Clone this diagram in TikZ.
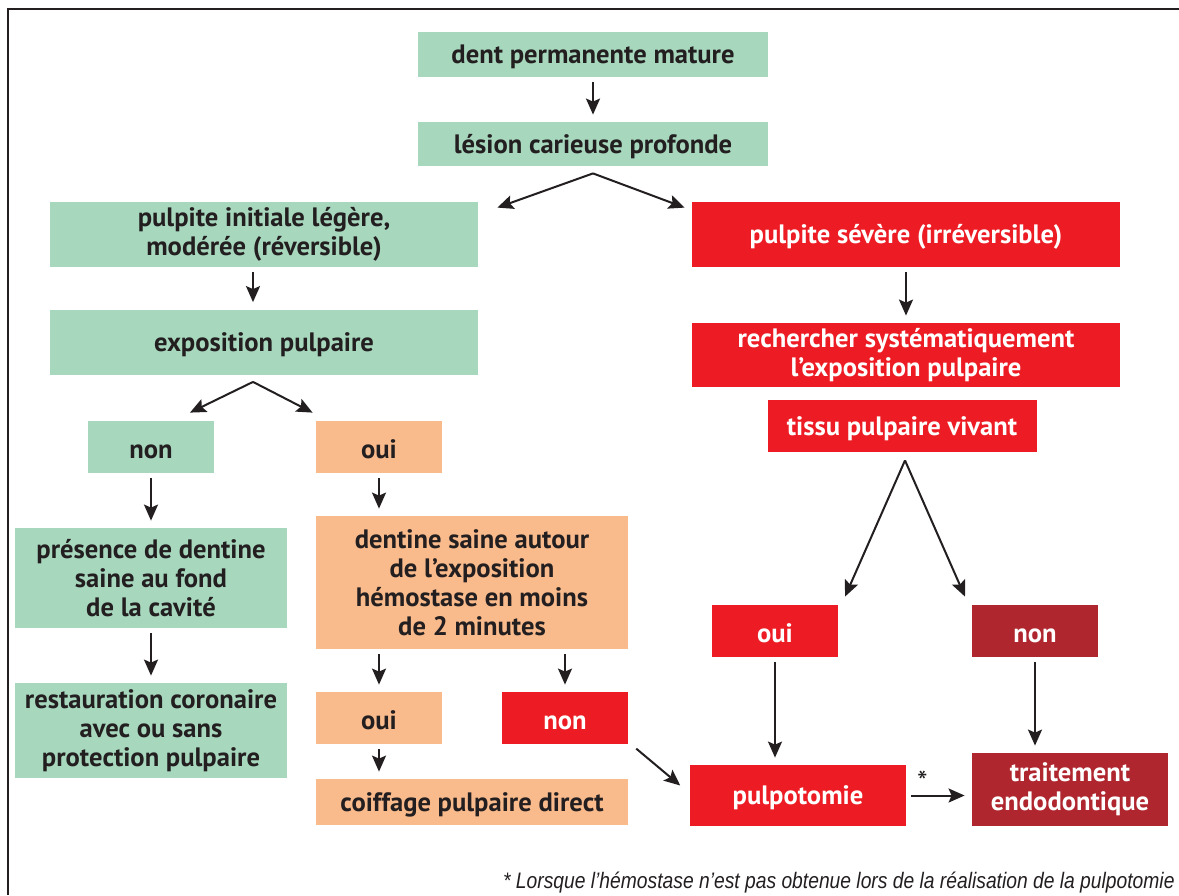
\documentclass[tikz,border=0pt]{standalone}
\usepackage{fontspec}
\setmainfont{PT Sans}
\newfontfamily\notefont[FakeStretch=0.86]{Liberation Sans}
\usetikzlibrary{arrows.meta,calc,positioning}
\definecolor{vert}{RGB}{167,215,189}
\definecolor{peche}{RGB}{249,186,140}
\definecolor{rouge}{RGB}{237,28,36}
\definecolor{bordeaux}{RGB}{175,38,46}
\definecolor{encre}{RGB}{35,31,32}
\tikzset{box/.style={
        inner sep=0pt,
        align=center,
        font=\bfseries\fontsize{13.3}{14.5}\selectfont,
        execute at begin node={\rule{0pt}{12pt}},
    },
    greenbox/.style={box, fill=vert, text=encre},
    peachbox/.style={box, fill=peche, text=encre},
    redbox/.style={box, fill=rouge, text=white},
    darkbox/.style={box, fill=bordeaux, text=white},
    wide/.style={minimum width=214pt, minimum height=32.5pt},
    small/.style={minimum width=63pt, minimum height=26pt},
    fleche/.style={-{Stealth[length=8pt,width=7pt,inset=1.5pt]}, line width=1pt, color=encre,
        shorten >=3.5pt, shorten <=2.5pt}
}

\begin{document}
\begin{tikzpicture}[x=1pt,y=1pt,on grid]
  \useasboundingbox (0,0) rectangle (589.5,-447.5);
  \draw[line width=1pt,encre] (4,-447.5) -- (4,-4.5) -- (589.5,-4.5);

  \node[greenbox, minimum width=175pt, minimum height=22.5pt] (dent) at (296.5,-27) {dent permanente mature};
  \node[greenbox, minimum width=175pt, minimum height=22pt] (lesion) [below=45pt of dent] {lésion carieuse profonde};
  \node[greenbox, wide] (pulpi) [below left=45.25pt and 164.5pt of lesion] {pulpite initiale légère,\\ modérée (réversible)};
  \node[redbox, wide] (severe) [right=321pt of pulpi] {pulpite sévère (irréversible)};
  \node[greenbox, wide] (expo) [below=53.75pt of pulpi] {exposition pulpaire};
  \node[greenbox, small] (non1) [below left=52.5pt and 56.5pt of expo] {non};
  \node[peachbox, small] (oui1) [right=114pt of non1] {oui};
  \node[greenbox, minimum width=136pt, minimum height=50pt] (presence) [below=65.5pt of non1] {présence de dentine\\ saine au fond\\ de la cavité};
  \node[greenbox, minimum width=136pt, minimum height=47.5pt] (restau) [below=76.25pt of presence] {restauration coronaire\\ avec ou sans\\ protection pulpaire};
  \node[peachbox, minimum width=156pt, minimum height=66.5pt] (dentine) [below right=67.75pt and 46.5pt of oui1] {dentine saine autour\\ de l’exposition\\ hémostase en moins\\ de 2 minutes};
  \node[peachbox, small] (oui2) [below=135.5pt of oui1] {oui};
  \node[redbox, small] (non2) [right=93pt of oui2] {non};
  \node[peachbox, minimum width=156pt, minimum height=23pt] (coiffage) [below right=42pt and 46.5pt of oui2] {coiffage pulpaire direct};
  \node[redbox, minimum width=214pt, minimum height=32pt] (recherche) [below=60.25pt of severe] {rechercher systématiquement\\ l’exposition pulpaire};
  \node[redbox, minimum width=134.5pt, minimum height=26pt] (tissu) [below left=35.5pt and 2pt of recherche] {tissu pulpaire vivant};
  \node[redbox, small] (oui3) [below left=102.5pt and 63.5pt of tissu] {oui};
  \node[darkbox, small] (non3) [right=130pt of oui3] {non};
  \node[redbox, minimum width=108pt, minimum height=30.5pt] (pulpo) [below right=82.25pt and 11.5pt of oui3] {pulpotomie};
  \node[darkbox, minimum width=98pt, minimum height=36.5pt] (traitement) [below right=79.25pt and 17.5pt of non3] {traitement\\ endodontique};
  \node[anchor=center, inner sep=0pt, text=encre, font=\fontsize{15}{15}\selectfont] (etoile) at ([shift={(8pt,7pt)}]pulpo.east) {*};
  \node[anchor=base east, inner sep=0pt, text=encre, font=\notefont\itshape\fontsize{11.2}{13}\selectfont] (note) at (587.5,-444)
    {* Lorsque l’hémostase n’est pas obtenue lors de la réalisation de la pulpotomie};

  % fourches
  \coordinate (fourche1) at ([yshift=-3.5pt]lesion.south);
  \coordinate (fourche2) at ([shift={(-5.5pt,-3.5pt)}]expo.south);
  \coordinate (fourche3) at ([shift={(1.5pt,-4pt)}]tissu.south);
  \path[fleche, shorten <=0pt, shorten >=0pt]
  (fourche1)
  edge ([shift={(9.5pt,-3pt)}]pulpi.north east)
  edge ([shift={(-3.5pt,-3pt)}]severe.north west)
  (fourche2)
  edge ([shift={(19.5pt,4pt)}]non1.north)
  edge ([shift={(-1.5pt,4pt)}]oui1.north west)
  (fourche3)
  edge ([shift={(35pt,4pt)}]oui3.north)
  edge ([shift={(-35pt,4pt)}]non3.north)
  ;

  \path[fleche]
  (dent) edge (lesion)
  ([xshift=-5.5pt]pulpi.south) edge ([xshift=-5.5pt]expo.north)
  (non1) edge (presence)
  (presence) edge (restau)
  (oui1) edge (dentine.north -| oui1)
  (dentine.south -| oui2) edge (oui2)
  (dentine.south -| non2) edge (non2)
  (oui2) edge (coiffage.north -| oui2)
  (severe) edge (recherche)
  (oui3) edge (pulpo.north -| oui3)
  (non3) edge (traitement.north -| non3)
  ([shift={(2pt,-0.5pt)}]non2.south east) edge ([shift={(-2pt,2.75pt)}]pulpo.west)
  (pulpo.east) edge (pulpo.east -| traitement.west)
  ;
\end{tikzpicture}
\end{document}
